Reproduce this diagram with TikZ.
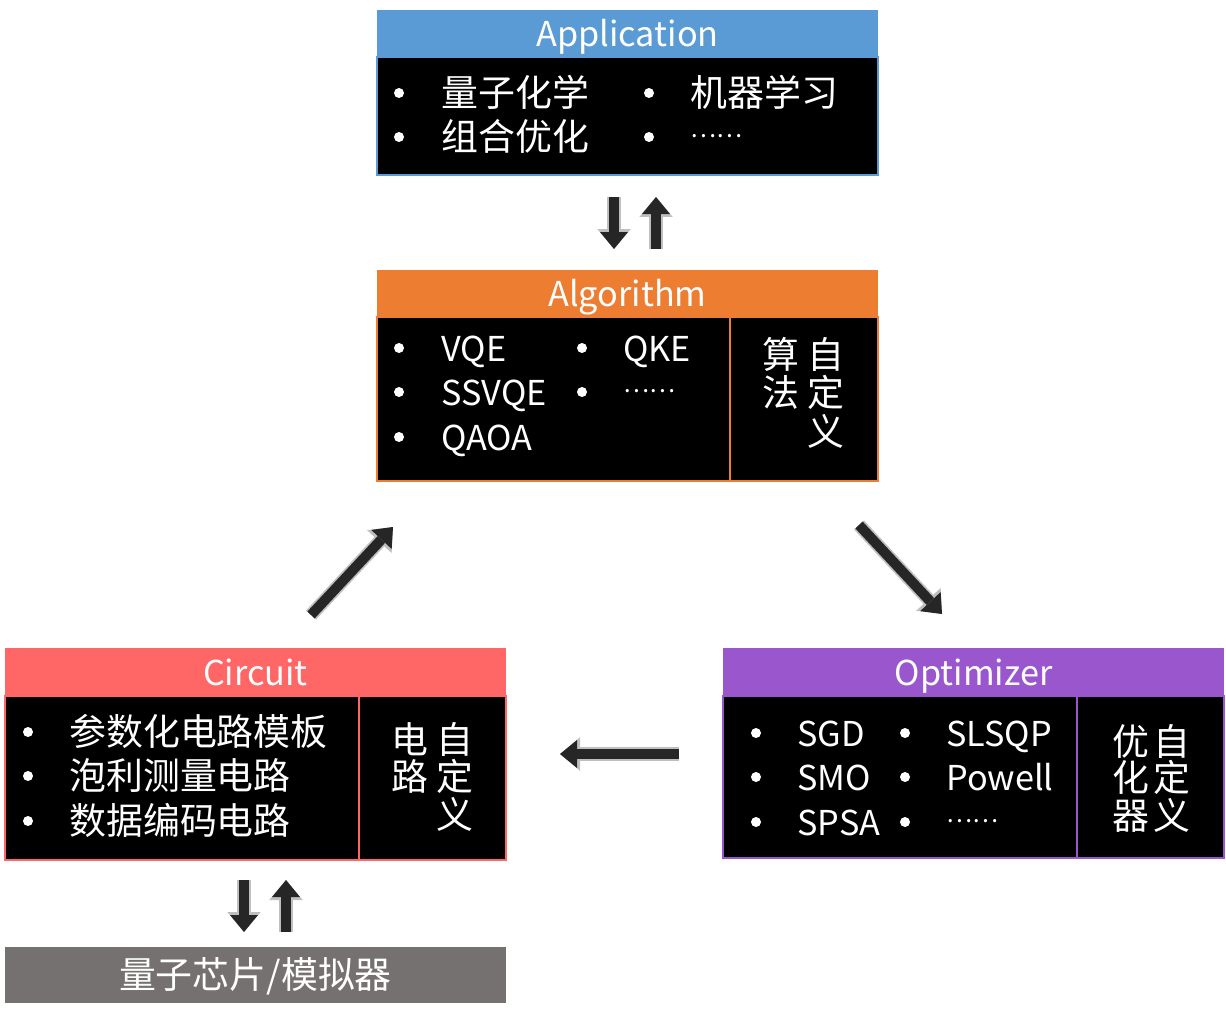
\documentclass[tikz,border=0pt]{standalone}
\usepackage{fontspec}
\setmainfont{Noto Sans CJK SC}
\usetikzlibrary{arrows.meta}

\definecolor{appblue}{HTML}{5B9BD5}
\definecolor{algorange}{HTML}{ED7D31}
\definecolor{cirred}{HTML}{FF6666}
\definecolor{optpurple}{HTML}{9A57CD}
\definecolor{chipgray}{HTML}{767171}
\definecolor{arrowdark}{HTML}{262626}
\definecolor{arrowedge}{HTML}{BFBFBF}

\newcommand{\moredots}{{\fontsize{14pt}{14pt}\selectfont\raisebox{7.5pt}{……}}}

\tikzset{
    head/.style={rectangle, inner sep=0pt, outer sep=0pt, text=white, minimum width=10.02cm, anchor=north west,
        font=\fontsize{19.5pt}{23pt}\selectfont, text height=0.62cm, text depth=0.08cm},
    body/.style={rectangle, draw=#1, line width=0.05cm, fill=black, inner sep=0pt, outer sep=0pt, anchor=north west},
    item/.style={text=white, inner sep=0pt, text height=0.62cm, text depth=0.08cm},
    latin/.style={item, font=\fontsize{19.5pt}{23pt}\selectfont},
    bullet/.style={circle, fill=white, inner sep=0pt, minimum size=0.2cm},
    bigarrow/.style={draw=arrowdark, line width=0.2cm, -{Triangle[length=0.34cm, width=0.56cm, line width=0pt]},
        preaction={draw=arrowedge, line width=0.27cm, -{Triangle[length=0.40cm, width=0.67cm, line width=0pt]}}},
}

\begin{document}
\begin{tikzpicture}[x=0.02cm, y=-0.02cm, font=\fontsize{21pt}{25pt}\selectfont]
    \useasboundingbox (0,0) rectangle (1226,1021);

    % Application
    \draw
    (377,10)node[head, fill=appblue, minimum height=0.94cm](app){Application}
    (app.south west)node[body=appblue, minimum width=10.02cm, minimum height=2.36cm](appbody){}
    (399,93)node[bullet](appb1){}
    (441,93)node[item, anchor=west](appt1){量子化学}
    (399,137)node[bullet](appb2){}
    (441,137)node[item, anchor=west](appt2){组合优化}
    (649,93)node[bullet](appb3){}
    (690,93)node[item, anchor=west](appt3){机器学习}
    (649,137)node[bullet](appb4){}
    (690,137)node[item, anchor=west](appt4){\moredots}
    ;

    % Algorithm
    \draw
    (377,270)node[head, fill=algorange, minimum height=0.94cm](alg){Algorithm}
    (alg.south west)node[body=algorange, minimum width=7.06cm, minimum height=3.28cm](algbody){}
    (algbody.north east)node[body=algorange, minimum width=2.96cm, minimum height=3.28cm](algside){}
    (399,348)node[bullet](algb1){}
    (441,348)node[latin, anchor=west](algt1){VQE}
    (399,392)node[bullet](algb2){}
    (441,392)node[latin, anchor=west](algt2){SSVQE}
    (399,437)node[bullet](algb3){}
    (441,437)node[latin, anchor=west](algt3){QAOA}
    (582,348)node[bullet](algb4){}
    (623,348)node[latin, anchor=west](algt4){QKE}
    (582,392)node[bullet](algb5){}
    (623,392)node[item, anchor=west](algt5){\moredots}
    (781,355)node[item](algs1){算}
    (781,393)node[item](algs2){法}
    (826,355)node[item](algs3){自}
    (826,393)node[item](algs4){定}
    (826,432)node[item](algs5){义}
    ;

    % Circuit
    \draw
    (5,648)node[head, fill=cirred, minimum height=0.96cm](cir){Circuit}
    (cir.south west)node[body=cirred, minimum width=7.08cm, minimum height=3.28cm](cirbody){}
    (cirbody.north east)node[body=cirred, minimum width=2.94cm, minimum height=3.28cm](cirside){}
    (28,732)node[bullet](cirb1){}
    (69,732)node[item, anchor=west](cirt1){参数化电路模板}
    (28,776)node[bullet](cirb2){}
    (69,776)node[item, anchor=west](cirt2){泡利测量电路}
    (28,821)node[bullet](cirb3){}
    (69,821)node[item, anchor=west](cirt3){数据编码电路}
    (410,740)node[item](cirs1){电}
    (410,777)node[item](cirs2){路}
    (455,740)node[item](cirs3){自}
    (455,777)node[item](cirs4){定}
    (455,815)node[item](cirs5){义}
    ;

    % Optimizer
    \draw
    (723,648)node[head, fill=optpurple, minimum height=0.96cm](opt){Optimizer}
    (opt.south west)node[body=optpurple, minimum width=7.08cm, minimum height=3.24cm](optbody){}
    (optbody.north east)node[body=optpurple, minimum width=2.94cm, minimum height=3.24cm](optside){}
    (756,733)node[bullet](optb1){}
    (797,733)node[latin, anchor=west](optt1){SGD}
    (756,777)node[bullet](optb2){}
    (797,777)node[latin, anchor=west](optt2){SMO}
    (756,822)node[bullet](optb3){}
    (797,822)node[latin, anchor=west](optt3){SPSA}
    (905,733)node[bullet](optb4){}
    (946,733)node[latin, anchor=west](optt4){SLSQP}
    (905,777)node[bullet](optb5){}
    (946,777)node[latin, anchor=west](optt5){Powell}
    (905,822)node[bullet](optb6){}
    (946,822)node[item, anchor=west](optt6){\moredots}
    (1131,742)node[item](opts1){优}
    (1131,778)node[item](opts2){化}
    (1131,816)node[item](opts3){器}
    (1172,742)node[item](opts4){自}
    (1172,778)node[item](opts5){定}
    (1172,816)node[item](opts6){义}
    ;

    % chip
    \draw
    (5,947)node[head, fill=chipgray, minimum height=1.12cm, font=\fontsize{21pt}{25pt}\selectfont](chip){量子芯片/模拟器}
    ;

    % arrows
    \coordinate (appdown1) at (614,197);
    \coordinate (appdown2) at (614,249);
    \coordinate (appup1) at (656,249);
    \coordinate (appup2) at (656,197);
    \coordinate (cirup1) at (311,615);
    \coordinate (cirup2) at (393,527);
    \coordinate (optdown1) at (859,525);
    \coordinate (optdown2) at (942,614);
    \coordinate (optleft1) at (679,754);
    \coordinate (optleft2) at (560,754);
    \coordinate (chipdown1) at (244,880);
    \coordinate (chipdown2) at (244,932);
    \coordinate (chipup1) at (286,932);
    \coordinate (chipup2) at (286,880);

    \draw[bigarrow] (appdown1) -- (appdown2);
    \draw[bigarrow] (appup1) -- (appup2);
    \draw[bigarrow] (cirup1) -- (cirup2);
    \draw[bigarrow] (optdown1) -- (optdown2);
    \draw[bigarrow] (optleft1) -- (optleft2);
    \draw[bigarrow] (chipdown1) -- (chipdown2);
    \draw[bigarrow] (chipup1) -- (chipup2);
\end{tikzpicture}
\end{document}
